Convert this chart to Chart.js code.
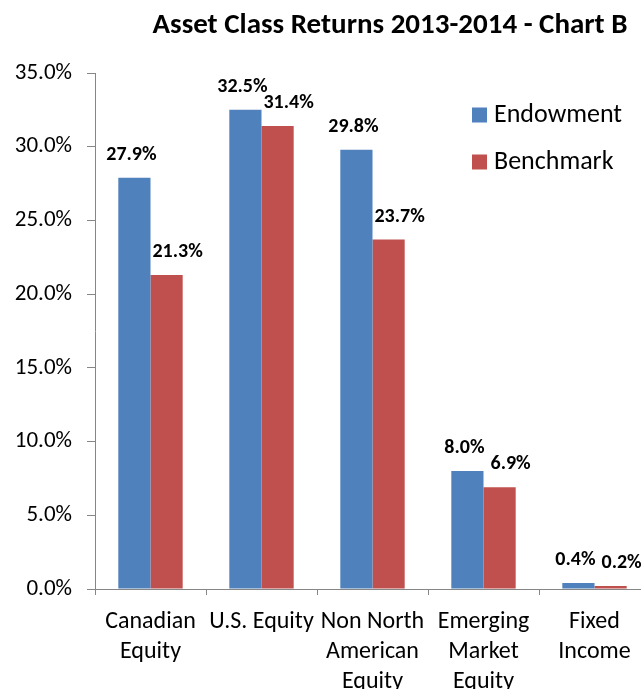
<!DOCTYPE html>
<html>
<head>
<meta charset="utf-8">
<script src="https://cdn.jsdelivr.net/npm/chart.js@4.4.1/dist/chart.umd.min.js"></script>
<style>
    html, body { margin: 0; padding: 0; background: #fff; overflow: hidden; }
    #wrap { width: 650px; height: 689px; }
</style>
</head>
<body>
<div id="wrap"><canvas id="assetChart" width="650" height="689"></canvas></div>
<script>
// Asset class returns, 2013-2014 (Chart B)
const categories = [
    ['Canadian', 'Equity'],
    ['U.S. Equity'],
    ['Non North', 'American', 'Equity'],
    ['Emerging', 'Market', 'Equity'],
    ['Fixed', 'Income']
];
const endowment = [27.9, 32.5, 29.8, 8.0, 0.4];
const benchmark = [21.3, 31.4, 23.7, 6.9, 0.2];
const seriesNames = ['Endowment', 'Benchmark'];
const chartTitle = 'Asset Class Returns 2013-2014 - Chart B';

const FONT = "Carlito, Lato, 'Liberation Sans', sans-serif";
const BLUE = '#4F81BD';
const RED = '#C0504D';
const AXIS = '#868686';

// Draws title, value labels and the legend inside the plot
const decorations = {
    id: 'decorations',
    afterDatasetsDraw(chart) {
        const ctx = chart.ctx;
        ctx.save();

        // value labels above each bar
        ctx.font = 'bold 20px ' + FONT;
        ctx.fillStyle = '#000';
        ctx.textAlign = 'center';
        ctx.textBaseline = 'middle';
        chart.data.datasets.forEach((ds, di) => {
            const meta = chart.getDatasetMeta(di);
            const dx = di === 0 ? -3 : 11;
            meta.data.forEach((bar, i) => {
                ctx.fillText(ds.data[i].toFixed(1) + '%', bar.x + dx, bar.y - 23);
            });
        });

        // title
        ctx.font = 'bold 29px ' + FONT;
        ctx.fillText(chartTitle, 390, 26);

        // legend
        ctx.font = '26px ' + FONT;
        ctx.textAlign = 'left';
        chart.data.datasets.forEach((ds, di) => {
            const cy = 115 + di * 47;
            ctx.fillStyle = ds.backgroundColor;
            ctx.fillRect(472, cy - 7.5, 15, 15);
            ctx.fillStyle = '#000';
            ctx.fillText(ds.label, 494, cy);
        });

        ctx.restore();
    }
};

new Chart(document.getElementById('assetChart').getContext('2d'), {
    type: 'bar',
    data: {
        labels: categories,
        datasets: [
            {
                label: seriesNames[0],
                data: endowment,
                backgroundColor: BLUE,
                categoryPercentage: 0.58,
                barPercentage: 1.0
            },
            {
                label: seriesNames[1],
                data: benchmark,
                backgroundColor: RED,
                categoryPercentage: 0.58,
                barPercentage: 1.0
            }
        ]
    },
    options: {
        responsive: false,
        animation: false,
        devicePixelRatio: 1,
        layout: {
            padding: { top: 73, left: 0, right: 0, bottom: 0 }
        },
        plugins: {
            legend: { display: false },
            title: { display: false },
            tooltip: { enabled: false }
        },
        scales: {
            x: {
                grid: {
                    display: true,
                    drawOnChartArea: false,
                    drawTicks: true,
                    tickLength: 6,
                    color: AXIS,
                    offset: true
                },
                border: { color: AXIS, width: 1 },
                ticks: {
                    color: '#000',
                    padding: 12,
                    maxRotation: 0,
                    autoSkip: false,
                    font: { family: FONT, size: 24, lineHeight: 1.25 }
                },
                afterFit: (scale) => { scale.height = 100; }
            },
            y: {
                min: 0,
                max: 35,
                grid: {
                    display: true,
                    drawOnChartArea: false,
                    drawTicks: true,
                    tickLength: 8,
                    color: AXIS
                },
                border: { color: AXIS, width: 1 },
                ticks: {
                    stepSize: 5,
                    color: '#000',
                    padding: 15,
                    font: { family: FONT, size: 23 },
                    callback: (value) => value.toFixed(1) + '%'
                },
                afterFit: (scale) => { scale.width = 95; }
            }
        }
    },
    plugins: [decorations]
});
</script>
</body>
</html>
